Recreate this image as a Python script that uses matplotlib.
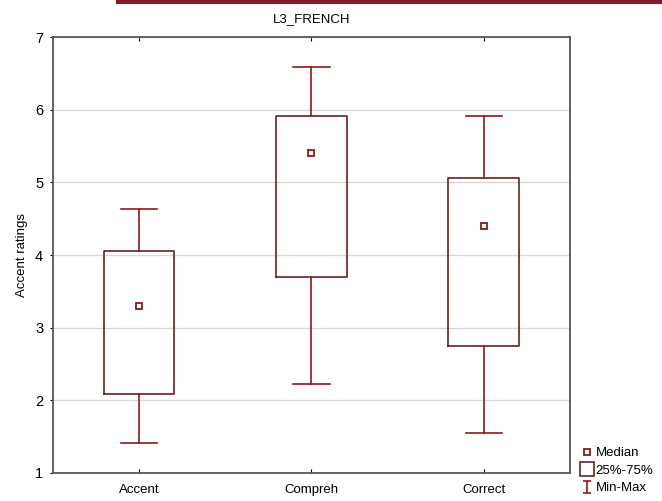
import matplotlib
matplotlib.use("Agg")
import matplotlib.pyplot as plt
from matplotlib.lines import Line2D
from matplotlib.path import Path

plt.rcParams["font.family"] = ["Liberation Sans", "DejaVu Sans"]

categories = ["Accent", "Compreh", "Correct"]
medians = [3.30, 5.40, 4.40]
q1 = [2.08, 3.70, 2.75]
q3 = [4.05, 5.91, 5.06]
mins = [1.41, 2.22, 1.55]
maxs = [4.63, 6.59, 5.92]

BOX_COLOR = "#6a2020"
WHISK_COLOR = "#8b1a1a"
SPINE_COLOR = "#555555"

fig = plt.figure(figsize=(6.62, 5.01), dpi=100)
ax = fig.add_axes([0.080, 0.056, 0.781, 0.870])

stats = []
for name, med, lo, hi, wlo, whi in zip(categories, medians, q1, q3, mins, maxs):
    stats.append({"label": name, "med": med, "q1": lo, "q3": hi,
                  "whislo": wlo, "whishi": whi, "fliers": []})

positions = list(range(len(categories)))
ax.bxp(stats, positions=positions, widths=0.41, showfliers=False,
       boxprops=dict(color=BOX_COLOR, linewidth=1.2),
       whiskerprops=dict(color=WHISK_COLOR, linewidth=1.2),
       capprops=dict(color=WHISK_COLOR, linewidth=1.2),
       capwidths=0.21,
       medianprops=dict(linewidth=0))
ax.plot(positions, medians, linestyle="none", marker="s", markersize=5,
        markerfacecolor="white", markeredgecolor=WHISK_COLOR, markeredgewidth=1.3)

ax.set_xlim(-0.5, 2.5)
ax.set_ylim(1, 7)
ax.set_yticks(range(1, 8))
ax.set_xticks(positions)
ax.set_xticklabels(categories)
ax.yaxis.grid(True, color="#d8d8d8", linewidth=1)
ax.set_axisbelow(True)
ax.tick_params(axis="x", direction="in", length=3, top=True, labelsize=9.5,
               colors="black", pad=8)
ax.tick_params(axis="y", direction="out", length=2, labelsize=10.5, pad=5)
for s in ax.spines.values():
    s.set_color(SPINE_COLOR)
    s.set_linewidth(1.3)

ax.set_ylabel("Accent ratings", fontsize=9.5, labelpad=5)
ax.set_title("L3_FRENCH", fontsize=9.5, pad=11)

# decorative top rule
fig.add_artist(Line2D([118 / 662, 1.0], [0.996, 0.996], color="#7b1e2b",
                      linewidth=3, transform=fig.transFigure))

i_marker = Path([(-0.6, 1), (0.6, 1), (0, 1), (0, -1), (-0.6, -1), (0.6, -1)],
                [Path.MOVETO, Path.LINETO, Path.MOVETO, Path.LINETO, Path.MOVETO, Path.LINETO])
handles = [
    Line2D([], [], linestyle="none", marker="s", markersize=5, markerfacecolor="white",
           markeredgecolor=WHISK_COLOR, markeredgewidth=1.3),
    Line2D([], [], linestyle="none", marker="s", markersize=10, markerfacecolor="white",
           markeredgecolor=BOX_COLOR, markeredgewidth=1.2),
    Line2D([], [], linestyle="none", marker=i_marker, markersize=9,
           markeredgecolor=WHISK_COLOR, markeredgewidth=1.2),
]
fig.legend(handles, ["Median", "25%-75%", "Min-Max"], loc="lower left",
           bbox_to_anchor=(572 / 662, -0.005), frameon=False, fontsize=9.5,
           handlelength=0.8, handletextpad=0.3, labelspacing=0.4, borderpad=0.2)

fig.savefig("out.png", dpi=100)
